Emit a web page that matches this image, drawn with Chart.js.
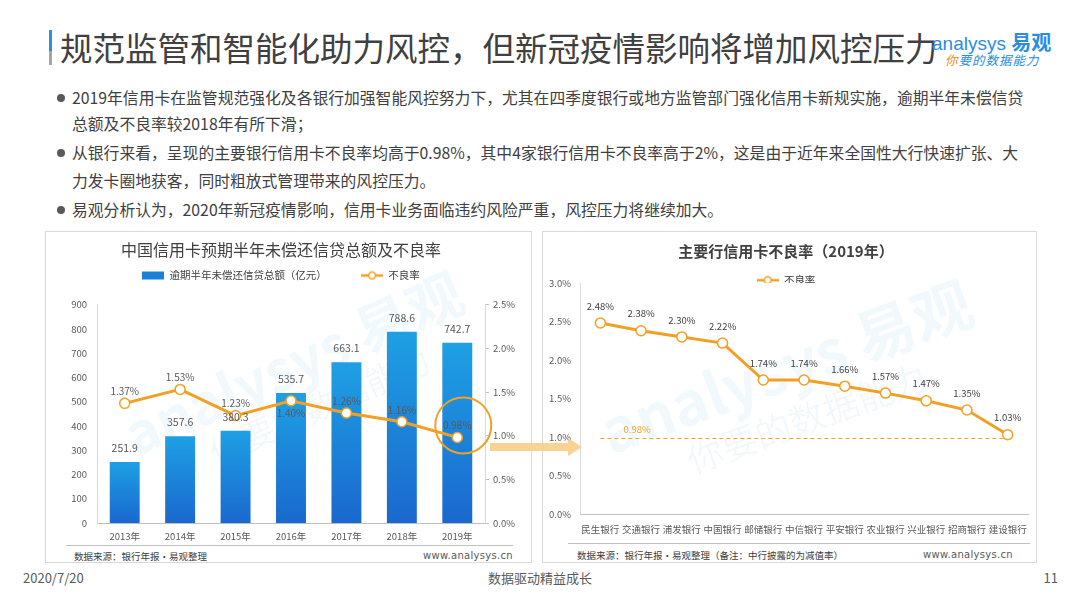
<!DOCTYPE html>
<html>
<head>
<meta charset="utf-8">
<title>规范监管和智能化助力风控</title>
<script src="https://cdn.jsdelivr.net/npm/chart.js"></script>
<style>
    body { margin: 0; width: 1080px; height: 608px; overflow: hidden; background: #fff;
           font-family: "Noto Sans CJK SC", "Noto Sans", sans-serif; color: #404040; position: relative; }
    .abs { position: absolute; white-space: nowrap; }
    .box { position: absolute; border: 1px solid #D9D9D9; box-sizing: border-box; }
    .line { position: absolute; height: 1px; background: #BFBFBF; }
    .bullet { position: absolute; font-size: 15.8px; line-height: 20px; white-space: nowrap; color: #404040; }
    .dot { position: absolute; left: 57px; width: 8px; height: 8px; border-radius: 50%; background: #595959; }
    .src { font-size: 9.5px; line-height: 12px; color: #404040; }
    .www { font-size: 10px; line-height: 12px; color: #595959; font-family: "DejaVu Sans", sans-serif; letter-spacing: 0.3px; }
    .wm { position: absolute; white-space: nowrap; color: rgba(30,150,220,0.06); font-weight: bold; transform-origin: center; }
    canvas { position: absolute; }
</style>
</head>
<body>
    <!-- 标题 -->
    <div class="abs" style="left:49px; top:30px; width:3px; height:35px; background:linear-gradient(#2E8FE0 60%, #A6A6A6 60%);"></div>
    <div class="abs" style="left:60px; top:26px; font-size:32.5px; line-height:42px; color:#404040;">规范监管和智能化助力风控，但新冠疫情影响将增加风控压力</div>
    <div class="abs" style="left:932px; top:29px; font-size:19px; line-height:26px; color:#2B8DE0; font-family:'Liberation Sans', sans-serif;">analysys <span style="font-family:'Noto Sans CJK SC'; font-weight:bold; font-size:20px;">易观</span></div>
    <div class="abs" style="left:945px; top:52px; font-size:12.5px; line-height:16px; color:#2B8DE0; font-style:italic; letter-spacing:1px;"><span style="color:#F08A1C;">你</span>要的数据能力</div>

    <!-- 要点 -->
    <div class="dot" style="top:94px;"></div>
    <div class="bullet" style="left:72px; top:88px;">2019年信用卡在监管规范强化及各银行加强智能风控努力下，尤其在四季度银行或地方监管部门强化信用卡新规实施，逾期半年未偿信贷</div>
    <div class="bullet" style="left:72px; top:114px;">总额及不良率较2018年有所下滑；</div>
    <div class="dot" style="top:149px;"></div>
    <div class="bullet" style="left:72px; top:143px;">从银行来看，呈现的主要银行信用卡不良率均高于0.98%，其中4家银行信用卡不良率高于2%，这是由于近年来全国性大行快速扩张、大</div>
    <div class="bullet" style="left:72px; top:171px;">力发卡圈地获客，同时粗放式管理带来的风控压力。</div>
    <div class="dot" style="top:206px;"></div>
    <div class="bullet" style="left:72px; top:200px;">易观分析认为，2020年新冠疫情影响，信用卡业务面临违约风险严重，风控压力将继续加大。</div>

    <!-- 左图框 -->
    <div class="box" style="left:45px; top:231px; width:487px; height:332px;"></div>
    <div class="wm" style="left:110px; top:320px; font-size:56px; transform:rotate(-24deg);">analysys 易观</div>
    <div class="wm" style="left:200px; top:380px; font-size:34px; font-weight:normal; transform:rotate(-24deg);">你要的数据能力</div>
    <div class="line" style="left:66px; top:545px; width:447px;"></div>
    <div class="abs src" style="left:74px; top:550px;">数据来源：银行年报·易观整理</div>
    <div class="abs www" style="right:567px; top:550px;">www.analysys.cn</div>
    <canvas id="amountChart" width="472" height="315" style="left:45px; top:232px;"></canvas>

    <!-- 右图框 -->
    <div class="box" style="left:542px; top:231px; width:495px; height:332px;"></div>
    <div class="wm" style="left:590px; top:320px; font-size:60px; transform:rotate(-20deg);">analysys 易观</div>
    <div class="wm" style="left:680px; top:390px; font-size:36px; font-weight:normal; transform:rotate(-20deg);">你要的数据能力</div>
    <div class="line" style="left:568px; top:543px; width:462px;"></div>
    <div class="abs src" style="left:577px; top:549px;">数据来源：银行年报·易观整理（备注：中行披露的为减值率）</div>
    <div class="abs www" style="right:67px; top:549px;">www.analysys.cn</div>
    <canvas id="bankChart" width="495" height="312" style="left:542px; top:234px;"></canvas>

    <!-- 箭头 -->
    <svg class="abs" style="left:488px; top:436px;" width="96" height="22">
        <polygon points="2,7 80,7 80,2 94,11 80,20 80,15 2,15" fill="#F9CD88" opacity="0.9"/>
    </svg>

    <!-- 页脚 -->
    <div class="abs" style="left:23px; top:569px; font-size:13px; line-height:18px; color:#595959;">2020/7/20</div>
    <div class="abs" style="left:0; width:1080px; text-align:center; top:569px; font-size:13px; line-height:18px; color:#595959;">数据驱动精益成长</div>
    <div class="abs" style="right:22px; top:569px; font-size:13px; line-height:18px; color:#595959;">11</div>

<script>
// 数据
const years = ['2013年', '2014年', '2015年', '2016年', '2017年', '2018年', '2019年'];
const overdueAmount = [251.9, 357.6, 380.3, 535.7, 663.1, 788.6, 742.7];   // 亿元
const nplRate = [1.37, 1.53, 1.23, 1.40, 1.26, 1.16, 0.98];                // %

const banks = ['民生银行', '交通银行', '浦发银行', '中国银行', '邮储银行', '中信银行',
               '平安银行', '农业银行', '兴业银行', '招商银行', '建设银行'];
const bankRate = [2.48, 2.38, 2.30, 2.22, 1.74, 1.74, 1.66, 1.57, 1.47, 1.35, 1.03];
const benchmarkRate = 0.98;

const amountMax = 900, amountStep = 100;
const rateMax = 2.5, rateStep = 0.5;
const bankRateMax = 3.0, bankRateStep = 0.5;

const ORANGE = '#F2A024';
const TICK = '#595959';
const FONT = '"Noto Sans CJK SC", sans-serif';

Chart.defaults.font.family = FONT;
Chart.defaults.animation = false;

// 图例图标
function makeIcon(draw) {
    const c = document.createElement('canvas');
    c.width = 22; c.height = 10;
    draw(c.getContext('2d'));
    return c;
}
const barIcon = makeIcon(ctx => {
    ctx.fillStyle = '#1A80D8';
    ctx.fillRect(0, 1, 22, 8);
});
const lineIcon = makeIcon(ctx => {
    ctx.strokeStyle = ORANGE; ctx.lineWidth = 2.5;
    ctx.beginPath(); ctx.moveTo(0, 5); ctx.lineTo(22, 5); ctx.stroke();
    ctx.fillStyle = '#fff'; ctx.lineWidth = 1.5;
    ctx.beginPath(); ctx.arc(11, 5, 3.4, 0, Math.PI * 2); ctx.fill(); ctx.stroke();
});

function legendItem(text, icon, i) {
    return { text, pointStyle: icon, datasetIndex: i, fontColor: '#404040',
             fillStyle: 'transparent', strokeStyle: 'transparent', lineWidth: 0, hidden: false };
}

// 数据标签
const valueLabels = {
    id: 'valueLabels',
    afterDatasetsDraw(chart, args, opts) {
        const ctx = chart.ctx;
        (opts.items || []).forEach(item => {
            const meta = chart.getDatasetMeta(item.dataset);
            const values = chart.data.datasets[item.dataset].data;
            ctx.save();
            ctx.font = item.font;
            ctx.fillStyle = item.color;
            ctx.textAlign = 'center';
            ctx.textBaseline = 'middle';
            meta.data.forEach((el, i) => {
                if (item.only && !item.only.includes(i)) return;
                const dy = (item.below || []).includes(i) ? item.offset : -item.offset;
                ctx.fillText(item.format(values[i]), el.x + (item.dx || 0), el.y + dy);
            });
            ctx.restore();
        });
    }
};

// 2019年圈注
const highlight = {
    id: 'highlight',
    afterDatasetsDraw(chart, args, opts) {
        if (!opts.radius) return;
        const el = chart.getDatasetMeta(opts.dataset).data[opts.index];
        const ctx = chart.ctx;
        ctx.save();
        ctx.strokeStyle = ORANGE;
        ctx.lineWidth = 2;
        ctx.beginPath();
        ctx.arc(el.x + opts.dx, el.y + opts.dy, opts.radius, 0, Math.PI * 2);
        ctx.stroke();
        ctx.restore();
    }
};

function barGradient(c) {
    const chart = c.chart;
    if (!chart.chartArea) return '#1A80D8';
    const y = chart.scales.y;
    const g = chart.ctx.createLinearGradient(0, y.getPixelForValue(c.raw), 0, y.getPixelForValue(0));
    g.addColorStop(0, '#1EA0E4');
    g.addColorStop(1, '#1A68CE');
    return g;
}

// 左图：逾期半年未偿信贷总额及不良率
new Chart(document.getElementById('amountChart'), {
    type: 'bar',
    data: {
        labels: years,
        datasets: [{
            type: 'line',
            label: '不良率',
            data: nplRate,
            yAxisID: 'y1',
            borderColor: ORANGE,
            borderWidth: 3,
            pointRadius: 5,
            pointBorderWidth: 1.5,
            pointBackgroundColor: '#fff',
            pointBorderColor: ORANGE,
            tension: 0,
            order: 0
        }, {
            label: '逾期半年未偿还信贷总额（亿元）',
            data: overdueAmount,
            yAxisID: 'y',
            backgroundColor: barGradient,
            categoryPercentage: 0.54,
            barPercentage: 1,
            order: 1
        }]
    },
    options: {
        responsive: false,
        layout: { padding: 0 },
        plugins: {
            title: {
                display: true,
                text: '中国信用卡预期半年未偿还信贷总额及不良率',
                color: '#404040',
                font: { size: 16, weight: 'normal' },
                padding: { top: 8, bottom: 3 }
            },
            legend: {
                labels: {
                    usePointStyle: true,
                    pointStyleWidth: 22,
                    padding: 8,
                    font: { size: 10.5 },
                    color: '#404040',
                    generateLabels: () => [
                        legendItem('逾期半年未偿还信贷总额（亿元）\u3000\u3000\u3000', barIcon, 1),
                        legendItem('不良率', lineIcon, 0)
                    ]
                }
            },
            tooltip: { enabled: false },
            valueLabels: {
                items: [
                    { dataset: 1, offset: 14, font: '10.5px ' + FONT, color: TICK, format: v => v.toFixed(1) },
                    { dataset: 0, offset: 12, below: [3], font: '10px ' + FONT, color: TICK, format: v => v.toFixed(2) + '%' }
                ]
            },
            highlight: { dataset: 0, index: 6, dx: 6, dy: -12, radius: 28 }
        },
        scales: {
            x: {
                grid: { display: false, drawTicks: false },
                border: { display: true, color: '#BFBFBF' },
                ticks: { color: TICK, font: { size: 9.5 }, padding: 8, autoSkip: false, maxRotation: 0 },
                afterFit: s => { s.height = 24; }
            },
            pad: {
                type: 'category',
                position: 'top',
                grid: { display: false, drawTicks: false },
                border: { display: false },
                ticks: { display: false },
                afterFit: s => { s.height = 14; }
            },
            y: {
                position: 'left',
                min: 0, max: amountMax,
                grid: { display: false, drawTicks: false },
                border: { display: true, color: '#D9D9D9' },
                ticks: { stepSize: amountStep, color: TICK, font: { size: 9.5 }, padding: 10 },
                afterFit: s => { s.width = 52; }
            },
            y1: {
                position: 'right',
                min: 0, max: rateMax,
                grid: { display: true, drawOnChartArea: false, drawTicks: true, tickLength: 4, color: '#BFBFBF' },
                border: { display: true, color: '#D9D9D9' },
                ticks: { stepSize: rateStep, color: TICK, font: { size: 9.5 }, padding: 4,
                         callback: v => v.toFixed(1) + '%' },
                afterFit: s => { s.width = 32; }
            }
        }
    },
    plugins: [valueLabels, highlight]
});

// 右图：主要行信用卡不良率（2019年）
new Chart(document.getElementById('bankChart'), {
    type: 'line',
    data: {
        labels: banks,
        datasets: [{
            label: '不良率',
            data: bankRate,
            borderColor: ORANGE,
            borderWidth: 3,
            pointRadius: 5,
            pointBorderWidth: 1.5,
            pointBackgroundColor: '#fff',
            pointBorderColor: ORANGE,
            tension: 0
        }, {
            label: '基准',
            data: banks.map(() => benchmarkRate),
            borderColor: ORANGE,
            borderWidth: 1,
            borderDash: [4, 3],
            pointRadius: 0,
            tension: 0
        }]
    },
    options: {
        responsive: false,
        layout: { padding: { right: 7 } },
        plugins: {
            title: {
                display: true,
                text: '主要行信用卡不良率（2019年）',
                color: '#404040',
                font: { size: 15, weight: 'bold' },
                padding: { top: 8, bottom: 7 }
            },
            legend: {
                // 图例压在绘图区顶部，与原图一致
                maxHeight: 16,
                labels: {
                    usePointStyle: true,
                    pointStyleWidth: 22,
                    padding: 8,
                    font: { size: 10.5 },
                    color: '#404040',
                    generateLabels: () => [legendItem('不良率', lineIcon, 0)]
                }
            },
            tooltip: { enabled: false },
            valueLabels: {
                items: [
                    { dataset: 0, offset: 17, font: '9.5px ' + FONT, color: '#404040', format: v => v.toFixed(2) + '%' },
                    { dataset: 1, offset: 9, only: [1], dx: -4, font: '9.5px ' + FONT, color: ORANGE, format: v => v.toFixed(2) + '%' }
                ]
            }
        },
        scales: {
            x: {
                offset: true,
                grid: { display: false, drawTicks: false },
                border: { display: true, color: '#BFBFBF' },
                ticks: { color: TICK, font: { size: 9.5 }, padding: 10, autoSkip: false, maxRotation: 0, minRotation: 0 },
                afterFit: s => { s.height = 32; }
            },
            y: {
                min: 0, max: bankRateMax,
                grid: { display: false, drawTicks: false },
                border: { display: true, color: '#D9D9D9' },
                ticks: { stepSize: bankRateStep, color: TICK, font: { size: 9.5 }, padding: 9,
                         callback: v => v.toFixed(1) + '%' },
                afterFit: s => { s.width = 38; }
            }
        }
    },
    plugins: [valueLabels]
});
</script>
</body>
</html>
